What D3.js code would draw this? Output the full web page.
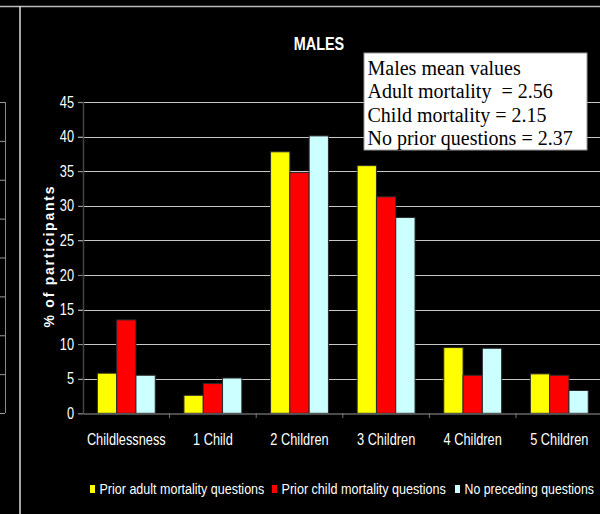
<!DOCTYPE html>
<html>
<head>
<meta charset="utf-8">
<script src="https://cdn.jsdelivr.net/npm/d3@7"></script>
<style>
  html, body { margin: 0; padding: 0; background: #000; }
  svg { display: block; }
  .narrow { transform-box: fill-box; transform: scaleX(0.8); }
  .narrow.mid { transform-origin: center; }
  .narrow.end { transform-origin: right; }
</style>
</head>
<body>
<svg id="chart" width="600" height="514"></svg>
<script>
(function () {
    var width = 600, height = 514;

    // data
    const categories = ["Childlessness", "1 Child", "2 Children", "3 Children", "4 Children", "5 Children"];
    const seriesNames = ["Prior adult mortality questions", "Prior child mortality questions", "No preceding questions"];
    const adultValues = [5.8, 2.6, 37.8, 35.8, 9.5, 5.7];
    const childValues = [13.5, 4.3, 34.8, 31.3, 5.5, 5.5];
    const noneValues = [5.5, 5.1, 40.1, 28.3, 9.4, 3.3];
    const yTicks = [0, 5, 10, 15, 20, 25, 30, 35, 40, 45];
    const meanLines = ["Males mean values", "Adult mortality  = 2.56", "Child mortality = 2.15", "No prior questions = 2.37"];

    const colors = ["#ffff00", "#ff0000", "#ccffff"];
    const sans = "'Liberation Sans', Arial, sans-serif";

    const rows = categories.map((c, i) => ({
        cat: c,
        vals: [adultValues[i], childValues[i], noneValues[i]]
    }));

    const svg = d3.select("#chart");

    // squeeze a text horizontally to a given width, keeping its left edge
    function squeezeTo(sel, widths) {
        sel.each(function (d, i) {
            const t = d3.select(this);
            const x0 = +t.attr("x") || 0;
            const k = widths[i] / this.getComputedTextLength();
            t.attr("transform", "translate(" + x0 + ",0) scale(" + k + ",1) translate(" + (-x0) + ",0)");
        });
    }

    // frame lines of the slide
    svg.append("line").attr("x1", 0).attr("x2", width).attr("y1", 6.5).attr("y2", 6.5)
        .attr("stroke", "#bbbbbb").attr("stroke-width", 1.5);
    svg.append("line").attr("x1", 20).attr("x2", 20).attr("y1", 6).attr("y2", height)
        .attr("stroke", "#dddddd").attr("stroke-width", 1.5);

    // cut-off neighbour chart on the left
    const leftY = d3.scaleLinear().domain([0, 8]).range([413, 102]);
    svg.append("g").selectAll("line")
        .data(d3.range(9))
        .join("line")
        .attr("x1", 0).attr("x2", 5)
        .attr("y1", d => leftY(d) + 0.5).attr("y2", d => leftY(d) + 0.5)
        .attr("stroke", "#9a9a9a");
    svg.append("line").attr("x1", 5.5).attr("x2", 5.5).attr("y1", 102).attr("y2", 413)
        .attr("stroke", "#8a8a8a");

    // scales
    const x = d3.scaleBand().domain(categories).range([83, 602.6]).paddingInner(0).paddingOuter(0);
    const xInner = d3.scaleBand().domain([0, 1, 2]).range([0, x.bandwidth()]).paddingInner(0).paddingOuter(0.745);
    const y = d3.scaleLinear().domain([0, 45]).range([413.3, 102]);

    // grid
    svg.append("g").selectAll("line")
        .data(yTicks.filter(d => d > 0))
        .join("line")
        .attr("x1", 78).attr("x2", width)
        .attr("y1", d => Math.round(y(d)) + 0.5).attr("y2", d => Math.round(y(d)) + 0.5)
        .attr("stroke", "#c8c8c8").attr("stroke-width", 1);

    // y axis
    const yAxis = svg.append("g")
        .attr("transform", "translate(83,0)")
        .call(d3.axisLeft(y).tickValues(yTicks).tickSize(5).tickPadding(4));
    yAxis.select(".domain").attr("stroke", "#444444").attr("stroke-width", 1.5);
    yAxis.selectAll(".tick line").attr("stroke", "#888888");
    yAxis.selectAll("text")
        .attr("class", "narrow end")
        .attr("fill", "#ffffff")
        .attr("font-family", sans)
        .attr("font-size", "16px");

    // bars
    const groups = svg.append("g").selectAll("g")
        .data(rows)
        .join("g")
        .attr("transform", d => "translate(" + x(d.cat) + ",0)");

    groups.selectAll("rect")
        .data(d => d.vals.map((v, k) => ({ k: k, v: v })))
        .join("rect")
        .attr("x", d => xInner(d.k))
        .attr("y", d => y(d.v))
        .attr("width", xInner.bandwidth())
        .attr("height", d => y(0) - y(d.v))
        .attr("fill", d => colors[d.k])
        .attr("stroke", "#2a2a2a")
        .attr("stroke-width", 1);

    // x axis
    const xAxis = svg.append("g")
        .attr("transform", "translate(0," + 413.5 + ")")
        .call(d3.axisBottom(x).tickSize(0).tickPadding(20));
    xAxis.select(".domain").attr("stroke", "#666666").attr("stroke-width", 1.5);
    xAxis.selectAll("text")
        .attr("class", "narrow mid")
        .attr("fill", "#ffffff")
        .attr("font-family", sans)
        .attr("font-size", "16px");
    // separators between categories
    svg.append("g").selectAll("line")
        .data(categories.slice(1))
        .join("line")
        .attr("x1", d => x(d)).attr("x2", d => x(d))
        .attr("y1", 413).attr("y2", 418)
        .attr("stroke", "#777777");

    // title
    svg.append("text")
        .attr("class", "narrow mid")
        .attr("x", 319).attr("y", 50)
        .attr("text-anchor", "middle")
        .attr("fill", "#ffffff")
        .attr("font-family", sans)
        .attr("font-weight", "bold")
        .attr("font-size", "18px")
        .text("MALES");

    // y title
    svg.append("text")
        .attr("transform", "translate(54,257) rotate(-90)")
        .attr("text-anchor", "middle")
        .attr("fill", "#ffffff")
        .attr("font-family", sans)
        .attr("font-weight", "bold")
        .attr("font-size", "14px")
        .attr("textLength", 141)
        .attr("lengthAdjust", "spacing")
        .text("% of participants");

    // mean values box
    svg.append("rect")
        .attr("x", 364).attr("y", 53).attr("width", 223).attr("height", 97)
        .attr("fill", "#ffffff").attr("stroke", "#999999");
    svg.append("g").selectAll("text")
        .data(meanLines)
        .join("text")
        .attr("x", 367.5)
        .attr("y", (d, i) => 75 + i * 23.4)
        .attr("fill", "#000000")
        .attr("font-family", "'Liberation Serif', 'Times New Roman', serif")
        .attr("font-size", "20px")
        .attr("xml:space", "preserve")
        .text(d => d);

    // legend
    const legendX = [90, 272, 455];
    const legendW = [165, 164.6, 129.5];
    const legend = svg.append("g").selectAll("g")
        .data(seriesNames)
        .join("g")
        .attr("transform", (d, i) => "translate(" + legendX[i] + ",485)");
    legend.append("rect")
        .attr("width", 5).attr("height", 8)
        .attr("fill", (d, i) => colors[i]);
    legend.append("text")
        .attr("x", 9.5).attr("y", 9)
        .attr("fill", "#ffffff")
        .attr("font-family", sans)
        .attr("font-size", "15.5px")
        .text(d => d)
        .call(squeezeTo, legendW);
})();
</script>
</body>
</html>
